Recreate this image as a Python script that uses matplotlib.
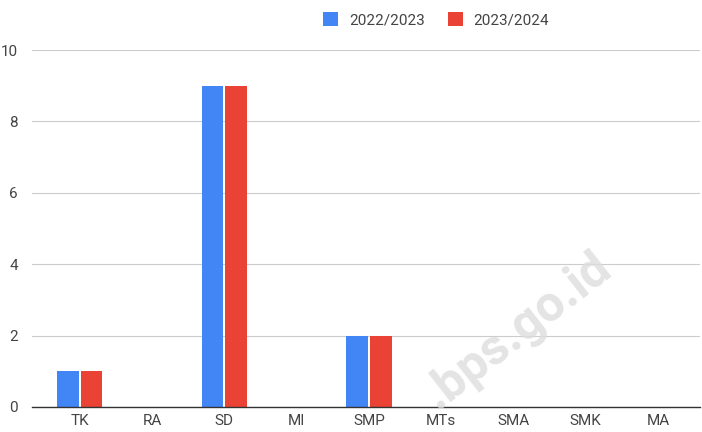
import matplotlib
matplotlib.use("Agg")
import matplotlib.pyplot as plt
import numpy as np

plt.rcParams['font.family'] = ['Roboto', 'DejaVu Sans']

# Data
categories = ['TK', 'RA', 'SD', 'MI', 'SMP', 'MTs', 'SMA', 'SMK', 'MA']
series_names = ['2022/2023', '2023/2024']
values_2022 = [1, 0, 9, 0, 2, 0, 0, 0, 0]
values_2023 = [1, 0, 9, 0, 2, 0, 0, 0, 0]
colors = ['#4285f4', '#ea4335']

fig = plt.figure(figsize=(7.02, 4.32), dpi=100)
ax = fig.add_axes([32 / 702, 25 / 432, 668 / 702, 357 / 432])

x = np.arange(len(categories))
w = 0.30
b1 = ax.bar(x - 0.165, values_2022, w, color=colors[0], label=series_names[0], zorder=3)
b2 = ax.bar(x + 0.165, values_2023, w, color=colors[1], label=series_names[1], zorder=3)

ax.set_xlim(-0.66, 8.58)
ax.set_ylim(0, 10)
ax.set_yticks([0, 2, 4, 6, 8, 10])
ax.set_xticks(x)
ax.set_xticklabels(categories)
ax.tick_params(axis='both', length=0, labelsize=11, colors='#444444')
ax.tick_params(axis='x', pad=5)
ax.tick_params(axis='y', pad=10)
ax.grid(axis='y', color='#cccccc', linewidth=0.8, zorder=0)
for s in ['top', 'right', 'left']:
    ax.spines[s].set_visible(False)
ax.spines['bottom'].set_color('#333333')
ax.spines['bottom'].set_linewidth(1)
ax.spines['bottom'].set_zorder(4)

# watermark
fig.text(0.738, 0.236, '.bps.go.id', rotation=38, fontsize=36, fontweight='bold',
         color='#dddddd', alpha=0.8, ha='center', va='center', zorder=5)

fig.legend(handles=[b1, b2], loc='center', bbox_to_anchor=(436 / 702, 1 - 20 / 432),
           ncol=2, frameon=False, fontsize=11, handlelength=1.0, handleheight=1.0,
           columnspacing=1.5, handletextpad=0.7, labelcolor='#444444')

fig.savefig('out.png', dpi=100)
